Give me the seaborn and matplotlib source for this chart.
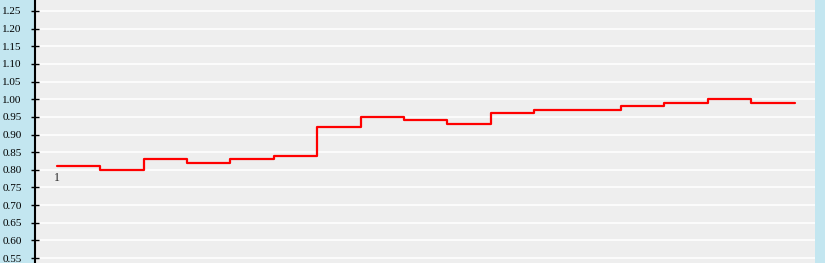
import matplotlib
matplotlib.use("Agg")
import matplotlib.pyplot as plt
import seaborn as sns
import pandas as pd
import numpy as np

# Data
periods = list(range(1, 18))
values = [0.81, 0.80, 0.83, 0.82, 0.83, 0.84, 0.92, 0.95, 0.94, 0.93,
          0.96, 0.97, 0.97, 0.98, 0.99, 1.00, 0.99]
yticks = [0.55, 0.60, 0.65, 0.70, 0.75, 0.80, 0.85, 0.90, 0.95,
          1.00, 1.05, 1.10, 1.15, 1.20, 1.25]
first_label = "1"

sns.set_theme(style="white")
plt.rcParams['font.family'] = ['Liberation Serif', 'DejaVu Serif']

# step data: the last step extends one period further
xs = list(range(len(values))) + [len(values)]
ys = values + [values[-1]]
df = pd.DataFrame({"x": xs, "y": ys})

fig = plt.figure(figsize=(8.25, 2.63), dpi=100, facecolor="#C3E6F0")
ax = fig.add_axes([35 / 825, 0, 780 / 825, 1])
ax.set_facecolor("#EEEEEE")

sns.lineplot(data=df, x="x", y="y", ax=ax, color="#FF0000", linewidth=1.6,
             drawstyle="steps-post", estimator=None, sort=False)

ax.set_xlim(-0.5, 17.47)
ax.set_ylim(0.536, 1.281)
ax.set_yticks(yticks)
ax.set_yticklabels([f"{v:.2f}" for v in yticks], fontsize=8, color="#000000")
ax.set_xticks([])
ax.set_xlabel("")
ax.set_ylabel("")
ax.yaxis.grid(True, color="white", linewidth=1.1)
ax.set_axisbelow(True)
ax.tick_params(axis="y", direction="inout", length=6, width=1, color="black",
               pad=6.5, left=True)
for s in ["top", "right", "bottom"]:
    ax.spines[s].set_visible(False)
ax.spines["left"].set_color("black")
ax.spines["left"].set_linewidth(1.5)

ax.text(0, values[0] - 0.016, first_label, ha="center", va="top", fontsize=8.5,
        color="#222222")

fig.savefig("out.png", dpi=100, facecolor=fig.get_facecolor())
